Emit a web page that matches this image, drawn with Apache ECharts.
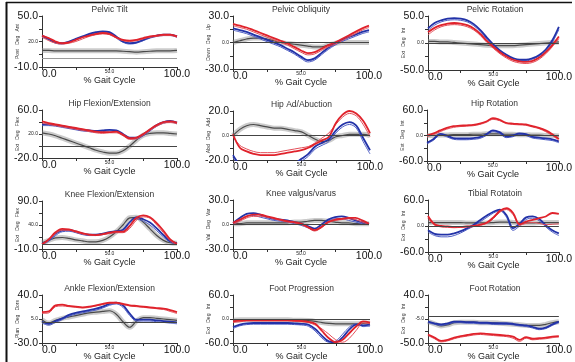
<!DOCTYPE html>
<html>
<head>
<meta charset="utf-8">
<script src="https://cdn.jsdelivr.net/npm/echarts@6/dist/echarts.min.js"></script>
<style>
  html, body { margin: 0; padding: 0; background: #fff; }
  #chart { width: 575px; height: 362px; }
</style>
</head>
<body>
<div id="chart"></div>
<script>
// x samples, % gait cycle
const gaitPct = [0, 5, 10, 15, 20, 25, 30, 35, 40, 45, 50, 55, 60, 65, 70, 75, 80, 85, 90, 95, 100];
const xTickValues = [0, 25, 50, 75, 100];
const xLabelValues = [0, 50, 100];

const panelTitles = [
  'Pelvic Tilt', 'Pelvic Obliquity', 'Pelvic Rotation',
  'Hip Flexion/Extension', 'Hip Ad/Abuction', 'Hip Rotation',
  'Knee Flexion/Extension', 'Knee valgus/varus', 'Tibial Rotatoin',
  'Ankle Flexion/Extension', 'Foot Progression', 'Foot Rotation'
];
const yAxisNames = [
  'Post   Deg   Ant', 'Down   Deg   Up', 'Ext   Deg   Int',
  'Ext   Deg   Flex', 'Abd   Deg   Add', 'Ext   Deg   Int',
  'Ext   Deg   Flex', 'Val   Deg   Var', 'Ext   Deg   Int',
  'Plan   Deg   Dors', 'Ext   Deg   Int', 'Ext   Deg   Int'
];
const yRanges = [
  [-10, 50], [-30, 30], [-50, 50],
  [-20, 60], [-20, 20], [-60, 60],
  [-10, 90], [-30, 30], [-60, 60],
  [-30, 40], [-60, 60], [-50, 40]
];

// Pelvic Tilt
const pelvicTiltNorm  = [9.5, 9.5, 9, 9, 9, 9, 9, 9, 9, 9, 9, 9, 8.5, 8, 7.5, 8, 8.5, 9, 9, 9, 9.5];
const pelvicTiltRedA  = [27, 24, 20, 18, 19, 22, 25, 27, 29, 30, 29, 25, 22, 21, 22, 24, 26, 27, 28, 28, 26];
const pelvicTiltRedB  = [25, 21, 18, 17, 18, 20, 23, 26, 28, 29, 28, 24, 21, 20, 21, 23, 25, 26, 27, 27, 25];
const pelvicTiltBlueA = [27, 23, 19, 18, 20, 23, 26, 29, 31, 32, 31, 26, 20, 18, 19, 22, 25, 27, 28, 28, 26];
const pelvicTiltBlueB = [25, 22, 18, 17, 19, 22, 25, 28, 30, 31, 30, 24, 19, 17, 18, 21, 24, 26, 27, 27, 25];

// Pelvic Obliquity
const pelvicObliqNorm  = [0, 2, 4, 5, 5, 4, 2, 0, -1, -2, -3, -4, -5, -5, -3, -1, 0, 0, 0, 0, 0];
const pelvicObliqRedA  = [21, 19, 17, 14, 11, 8, 5, 2, -1, -5, -9, -12, -11, -7, -3, 0, 4, 8, 12, 16, 19];
const pelvicObliqRedB  = [19, 17, 15, 12, 9, 6, 3, 0, -3, -7, -11, -14, -13, -9, -5, -2, 2, 6, 10, 14, 17];
const pelvicObliqBlueA = [16, 14, 12, 9, 6, 3, 0, -3, -7, -11, -16, -20, -18, -12, -6, -1, 3, 6, 9, 12, 14];
const pelvicObliqBlueB = [14, 12, 10, 7, 4, 1, -2, -5, -9, -13, -18, -22, -20, -14, -8, -3, 1, 4, 7, 10, 12];

// Pelvic Rotation
const pelvicRotNorm  = [3, 3, 2, 2, 1, 0, -1, -2, -3, -4, -5, -5, -5, -5, -4, -3, -2, -1, 0, 1, 2];
const pelvicRotRedA  = [20, 28, 33, 36, 37, 36, 33, 27, 17, 4, -7, -17, -25, -31, -34, -35, -33, -27, -17, -4, 12];
const pelvicRotRedB  = [15, 24, 30, 33, 34, 33, 30, 24, 14, 1, -10, -20, -28, -34, -37, -38, -36, -30, -20, -7, 8];
const pelvicRotBlueA = [27, 37, 42, 45, 46, 45, 42, 35, 24, 10, -3, -14, -22, -28, -31, -31, -28, -22, -12, 5, 30];
const pelvicRotBlueB = [23, 33, 39, 42, 43, 42, 39, 32, 21, 7, -6, -17, -25, -31, -33, -33, -30, -24, -15, 1, 25];

// Hip Flexion/Extension
const hipFlexNorm  = [22, 20, 17, 13, 9, 5, 1, -3, -7, -10, -12, -12, -8, 0, 10, 18, 21, 22, 22, 21, 20];
const hipFlexRedA  = [41, 38, 36, 34, 32, 30, 28, 26, 24, 23, 23, 24, 19, 13, 14, 20, 28, 35, 40, 41, 39];
const hipFlexRedB  = [38, 36, 34, 32, 30, 28, 26, 24, 22, 21, 22, 22, 17, 11, 12, 18, 26, 33, 38, 39, 37];
const hipFlexBlueA = [36, 36, 35, 33, 31, 29, 27, 26, 25, 26, 27, 26, 20, 14, 14, 19, 27, 35, 40, 42, 39];
const hipFlexBlueB = [34, 34, 33, 31, 29, 27, 25, 24, 23, 24, 25, 24, 18, 12, 12, 17, 25, 33, 38, 40, 37];

// Hip Ad/Abduction
const hipAbdNorm  = [0, 5, 8, 9, 8, 7, 6, 6, 5, 4, 3, 0, -3, -5, -4, -1, 0, 1, 1, 1, 0];
const hipAbdRedA  = [1, -10, -13, -15, -16, -16, -16, -15, -14, -13, -12, -10, -7, -4, -1, 10, 17, 20, 18, 12, 2];
const hipAbdRedB  = [-1, -8, -11, -13, -14, -14, -14, -13, -12, -11, -10, -9, -6, -2, 2, 9, 15, 18, 16, 9, -1];
const hipAbdBlueA = [-16, -24, -28, -30, -30, -30, -30, -28, -26, -23, -19, -15, -9, -6, -3, 4, 9, 11, 8, -2, -12];
const hipAbdBlueB = [-18, -26, -30, -32, -32, -32, -32, -30, -28, -25, -21, -17, -11, -8, -5, 2, 7, 9, 6, -5, -15];

// Hip Rotation
const hipRotNorm  = [0, 0, 1, 1, 2, 2, 2, 3, 3, 4, 4, 4, 3, 3, 2, 2, 1, 1, 0, 0, -1];
const hipRotRedA  = [0, 5, 12, 18, 22, 23, 24, 25, 28, 33, 41, 37, 30, 28, 27, 26, 22, 18, 12, 3, -8];
const hipRotRedB  = [-3, 2, 9, 15, 19, 21, 22, 23, 26, 31, 38, 35, 28, 26, 25, 24, 20, 16, 9, 0, -11];
const hipRotBlueA = [-17, -8, 4, 0, -6, -7, -7, -6, -4, 3, 12, 8, -2, 0, 5, 3, -3, -5, -7, -9, -14];
const hipRotBlueB = [-20, -11, 1, -3, -9, -10, -10, -9, -7, 0, 9, 5, -5, -3, 2, 0, -6, -8, -10, -12, -17];

// Knee Flexion/Extension
const kneeFlexNorm  = [3, 8, 13, 14, 12, 9, 7, 5, 5, 8, 15, 26, 40, 55, 56, 46, 32, 18, 8, 3, 2];
const kneeFlexRedA  = [0, 10, 25, 32, 31, 27, 23, 20, 19, 21, 24, 26, 26, 38, 55, 60, 56, 44, 28, 10, 1];
const kneeFlexRedB  = [-2, 8, 22, 29, 29, 25, 21, 19, 18, 20, 22, 24, 24, 33, 50, 57, 54, 40, 24, 7, -1];
const kneeFlexBlueA = [1, 9, 22, 29, 30, 26, 22, 20, 20, 22, 25, 27, 30, 46, 56, 52, 45, 33, 19, 6, 2];
const kneeFlexBlueB = [-1, 6, 18, 26, 27, 24, 20, 18, 18, 20, 23, 25, 27, 40, 52, 48, 40, 28, 15, 4, 0];

// Knee valgus/varus
const kneeValNorm  = [1, 1, 2, 2, 2, 2, 2, 2, 2, 3, 3, 4, 5, 5, 4, 3, 2, 2, 1, 1, 1];
const kneeValRedA  = [2, 6, 10, 12, 12, 10, 8, 6, 4, 3, 1, -3, -7, -3, 3, 6, 7, 8, 8, 5, 1];
const kneeValRedB  = [0, 4, 8, 10, 10, 9, 7, 5, 3, 2, 0, -4, -8, -4, 2, 5, 6, 7, 6, 3, 0];
const kneeValBlueA = [2, 8, 13, 14, 12, 9, 7, 6, 5, 3, 1, -2, -5, 0, 6, 9, 10, 8, 5, 3, 1];
const kneeValBlueB = [0, 5, 10, 11, 9, 7, 5, 4, 3, 1, -1, -4, -7, -2, 4, 7, 7, 5, 3, 1, 0];

// Tibial Rotation
const tibRotNorm  = [8, 8, 8, 8, 8, 8, 7, 7, 7, 7, 8, 9, 9, 8, 7, 7, 7, 8, 8, 8, 8];
const tibRotRedA  = [23, 4, 0, -1, -2, -2, -1, 0, 3, 8, 20, 35, 41, 30, 4, 10, 14, 18, 22, 30, 28];
const tibRotRedB  = [18, 2, -2, -3, -4, -3, -2, -1, 2, 6, 17, 32, 38, 26, 2, 6, 8, 6, 3, 4, 5];
const tibRotBlueA = [-10, -18, -20, -20, -17, -12, -5, 3, 14, 24, 33, 38, 25, -5, 5, 20, 22, 16, 2, -10, -17];
const tibRotBlueB = [-14, -22, -25, -25, -22, -16, -8, 0, 10, 20, 30, 35, 20, -10, 0, 15, 18, 12, -2, -14, -22];

// Ankle Flexion/Extension
const ankleNorm  = [4, -1, 3, 6, 8, 10, 12, 14, 15, 16, 17, 12, 1, -7, 2, 7, 7, 6, 5, 4, 3];
const ankleRedA  = [15, 16, 25, 26, 24, 23, 22, 23, 25, 27, 29, 29, 27, 25, 24, 23, 22, 21, 20, 18, 15];
const ankleRedB  = [13, 14, 23, 24, 23, 22, 21, 22, 24, 26, 28, 28, 26, 24, 23, 22, 21, 20, 19, 16, 13];
const ankleBlueA = [1, -2, 2, 6, 11, 14, 16, 18, 20, 23, 27, 29, 25, 13, 4, 4, 4, 3, 2, 1, 0];
const ankleBlueB = [-1, -4, 0, 4, 9, 12, 14, 16, 18, 21, 25, 27, 22, 10, 2, 2, 2, 1, 0, -1, -2];

// Foot Progression
const footProgNorm  = [-3, -2, -2, -2, -2, -2, -2, -2, -2, -3, -3, -4, -6, -9, -11, -12, -12, -12, -12, -11, -10];
const footProgRedA  = [-6, -4, -3, -3, -3, -3, -3, -3, -3, -4, -5, -7, -12, -30, -48, -58, -52, -35, -18, -6, -9];
const footProgRedB  = [-9, -7, -5, -5, -5, -5, -5, -5, -5, -6, -7, -9, -15, -25, -38, -52, -58, -48, -28, -10, -12];
const footProgBlueA = [-20, -14, -11, -10, -10, -10, -10, -10, -10, -11, -12, -14, -25, -42, -56, -58, -46, -26, -14, -16, -14];
const footProgBlueB = [-24, -17, -14, -13, -13, -13, -13, -13, -13, -14, -15, -18, -30, -48, -58, -55, -38, -20, -12, -19, -18];

// Foot Rotation
const footRotNorm  = [-10, -14, -18, -16, -12, -11, -11, -11, -12, -12, -12, -13, -14, -15, -16, -17, -17, -17, -15, -12, -10];
const footRotRedA  = [-34, -40, -46, -44, -40, -37, -35, -33, -32, -33, -34, -35, -36, -38, -44, -39, -42, -41, -40, -38, -37];
const footRotRedB  = [-36, -42, -48, -46, -42, -39, -37, -35, -34, -35, -36, -37, -38, -41, -47, -41, -44, -43, -42, -40, -39];
const footRotBlueA = [-10, -13, -15, -13, -10, -10, -11, -11, -12, -12, -13, -13, -13, -14, -16, -17, -20, -23, -21, -15, -10];
const footRotBlueB = [-12, -15, -17, -15, -12, -12, -13, -13, -14, -14, -15, -15, -15, -16, -18, -19, -22, -25, -23, -17, -12];

const panelCurves = [
  [pelvicTiltNorm, pelvicTiltRedA, pelvicTiltRedB, pelvicTiltBlueA, pelvicTiltBlueB],
  [pelvicObliqNorm, pelvicObliqRedA, pelvicObliqRedB, pelvicObliqBlueA, pelvicObliqBlueB],
  [pelvicRotNorm, pelvicRotRedA, pelvicRotRedB, pelvicRotBlueA, pelvicRotBlueB],
  [hipFlexNorm, hipFlexRedA, hipFlexRedB, hipFlexBlueA, hipFlexBlueB],
  [hipAbdNorm, hipAbdRedA, hipAbdRedB, hipAbdBlueA, hipAbdBlueB],
  [hipRotNorm, hipRotRedA, hipRotRedB, hipRotBlueA, hipRotBlueB],
  [kneeFlexNorm, kneeFlexRedA, kneeFlexRedB, kneeFlexBlueA, kneeFlexBlueB],
  [kneeValNorm, kneeValRedA, kneeValRedB, kneeValBlueA, kneeValBlueB],
  [tibRotNorm, tibRotRedA, tibRotRedB, tibRotBlueA, tibRotBlueB],
  [ankleNorm, ankleRedA, ankleRedB, ankleBlueA, ankleBlueB],
  [footProgNorm, footProgRedA, footProgRedB, footProgBlueA, footProgBlueB],
  [footRotNorm, footRotRedA, footRotRedB, footRotBlueA, footRotBlueB]
];

// plot boxes: left, top, width, height (px)
const gridBoxes = [
  [42, 16, 135, 51], [233, 16, 136, 53], [428, 16, 134, 54],
  [42, 110, 135, 48], [233, 111, 137, 49], [427, 110, 135, 51],
  [42, 201, 135, 48], [233, 200, 136, 49], [428, 200, 134, 52],
  [42, 295, 135, 48], [233, 295, 137, 49], [428, 295, 134, 48]
];

const FONT = '"Liberation Sans", Arial, sans-serif';
const RED = '#e0222b', RED2 = '#e4505a';
const BLUE = '#2232a8', BLUE2 = '#5060c6';

const pairs = vals => gaitPct.map((x, k) => [x, vals[k]]);
const fmt = v => (Math.abs(v) < 1e-9 ? 0 : v).toFixed(1);

const option = {
  animation: false,
  backgroundColor: '#fff',
  textStyle: { fontFamily: FONT },
  title: [], grid: [], xAxis: [], yAxis: [], series: [],
  graphic: [
    { type: 'line', shape: { x1: 6.5, y1: 2, x2: 6.5, y2: 362 }, style: { stroke: '#111', lineWidth: 2 } },
    { type: 'line', shape: { x1: 6, y1: 2.5, x2: 572, y2: 2.5 }, style: { stroke: '#111', lineWidth: 1.5 } }
  ]
};

panelTitles.forEach((name, i) => {
  const [l, t, w, h] = gridBoxes[i];
  const [lo, hi] = yRanges[i];
  const mid = (lo + hi) / 2;
  const q = (hi - lo) / 4;

  option.grid.push({ left: l, top: t, width: w, height: h });
  option.title.push({
    text: name, left: l + w / 2, top: t - 11, textAlign: 'center', padding: 0,
    textStyle: { fontSize: 8.5, fontWeight: 'normal', color: '#333', fontFamily: FONT }
  });

  option.xAxis.push({
    gridIndex: i, type: 'value', min: 0, max: 100,
    name: '% Gait Cycle', nameLocation: 'middle', nameGap: 9, nameMoveOverlap: false,
    nameTextStyle: { fontSize: 9, color: '#222', fontFamily: FONT },
    axisLine: { show: true, onZero: false, lineStyle: { color: '#333', width: 1 } },
    axisTick: { show: true, length: 3, customValues: xTickValues, lineStyle: { color: '#333' } },
    axisLabel: {
      customValues: xLabelValues, margin: 2, fontSize: 10.5, color: '#111', fontFamily: FONT,
      alignMinLabel: 'left', showMinLabel: true, showMaxLabel: true,
      formatter: v => (v === 50 ? '{s|' + fmt(v) + '}' : fmt(v)),
      rich: { s: { fontSize: 5, color: '#222', fontFamily: FONT } }
    },
    splitLine: { show: false }
  });

  option.yAxis.push({
    gridIndex: i, type: 'value', min: lo, max: hi,
    name: yAxisNames[i], nameLocation: 'middle', nameRotate: 90, nameGap: 22, nameMoveOverlap: false,
    nameTextStyle: { fontSize: 5, color: '#333', fontFamily: FONT },
    axisLine: { show: true, onZero: false, lineStyle: { color: '#333', width: 1 } },
    axisTick: { show: true, length: 3, customValues: [lo, lo + q, mid, hi - q, hi], lineStyle: { color: '#333' } },
    axisLabel: {
      customValues: [lo, mid, hi], margin: 4, fontSize: 10.5, color: '#111', fontFamily: FONT,
      showMinLabel: true, showMaxLabel: true,
      formatter: v => (v === lo || v === hi ? fmt(v) : '{s|' + fmt(v) + '}'),
      rich: { s: { fontSize: 5, color: '#222', fontFamily: FONT } }
    },
    splitLine: { show: false }
  });

  const [norm, redA, redB, blueA, blueB] = panelCurves[i];
  const base = { type: 'line', xAxisIndex: i, yAxisIndex: i, symbol: 'none', smooth: 0.35, silent: true, clip: true };

  option.series.push(
    { ...base, name: 'normal band', data: pairs(norm), lineStyle: { color: 'rgba(140,140,140,0.45)', width: 5 },
      markLine: { silent: true, symbol: 'none', label: { show: false }, animation: false,
        lineStyle: { color: i === 0 ? '#9a9a9a' : '#444', width: 1, type: 'solid' }, data: [{ yAxis: 0 }] } },
    { ...base, name: 'normal', data: pairs(norm), lineStyle: { color: '#4a4a4a', width: 1.2 } },
    { ...base, name: 'left B', data: pairs(blueB), lineStyle: { color: BLUE2, width: 1 } },
    { ...base, name: 'left A', data: pairs(blueA), lineStyle: { color: BLUE, width: 1.8 } },
    { ...base, name: 'right B', data: pairs(redB), lineStyle: { color: RED2, width: 1 } },
    { ...base, name: 'right A', data: pairs(redA), lineStyle: { color: RED, width: 1.8 } }
  );
});

const chart = echarts.init(document.getElementById('chart'), null, { renderer: 'canvas' });
chart.setOption(option);
</script>
</body>
</html>
